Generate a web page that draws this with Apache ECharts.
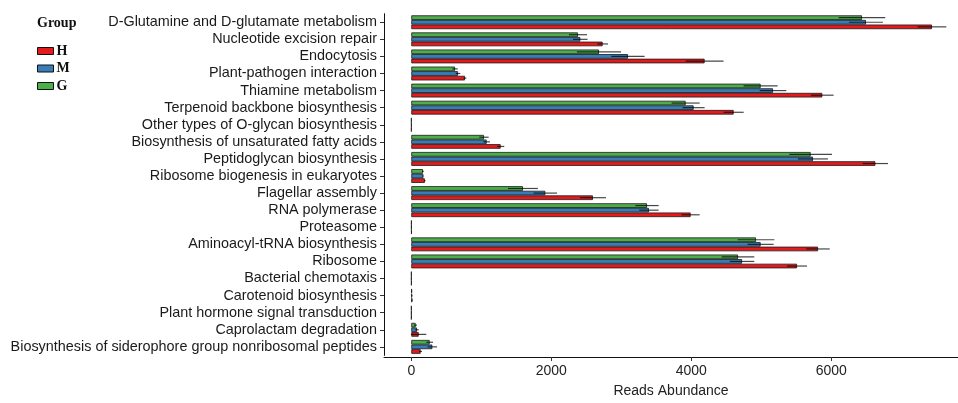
<!DOCTYPE html>
<html><head><meta charset="utf-8">
<script src="https://cdn.jsdelivr.net/npm/echarts@6/dist/echarts.min.js"></script>
<style>html,body{margin:0;padding:0;background:#fff}#c{width:958px;height:403px}</style>
</head><body><div id="c"></div>
<script>
const categories = [
  'D-Glutamine and D-glutamate metabolism',
  'Nucleotide excision repair',
  'Endocytosis',
  'Plant-pathogen interaction',
  'Thiamine metabolism',
  'Terpenoid backbone biosynthesis',
  'Other types of O-glycan biosynthesis',
  'Biosynthesis of unsaturated fatty acids',
  'Peptidoglycan biosynthesis',
  'Ribosome biogenesis in eukaryotes',
  'Flagellar assembly',
  'RNA polymerase',
  'Proteasome',
  'Aminoacyl-tRNA biosynthesis',
  'Ribosome',
  'Bacterial chemotaxis',
  'Carotenoid biosynthesis',
  'Plant hormone signal transduction',
  'Caprolactam degradation',
  'Biosynthesis of siderophore group nonribosomal peptides'
];
const valuesH = [7438, 2733, 4190, 767, 5871, 4605, 2, 1276, 6629, 193, 2595, 3990, 4, 5810, 5510, 3, 14, 2, 105, 133];
const errH    = [205, 77, 271, 19, 162, 143, 1, 52, 181, 10, 186, 129, 1, 167, 143, 1, 8, 1, 110, 20];
const valuesM = [6495, 2414, 3095, 667, 5167, 4033, 3, 1076, 5738, 171, 1914, 3395, 3, 4990, 4724, 2, 10, 2, 81, 300];
const errM    = [243, 104, 238, 33, 190, 157, 1, 48, 214, 8, 167, 138, 1, 186, 176, 1, 6, 1, 25, 67];
const valuesG = [6438, 2381, 2681, 624, 4990, 3919, 2, 1038, 5705, 167, 1595, 3367, 3, 4924, 4667, 2, 8, 2, 62, 262];
const errG    = [333, 129, 315, 38, 243, 200, 1, 67, 305, 10, 214, 167, 1, 262, 233, 1, 6, 1, 20, 48];
const xTicks = [0, 2000, 4000, 6000];
const groupNames = ['G', 'M', 'H'];
const legendOrder = ['H', 'M', 'G'];

const colors = { H: '#E41A1C', M: '#377EB8', G: '#4DAF4A' };
const vals = { H: valuesH, M: valuesM, G: valuesG };
const errs = { H: errH, M: errM, G: errG };
const CAT_GAP = 0.19;

function errRender(idx) {
  return function (params, api) {
    const ci = api.value(0), v = api.value(1), e = api.value(2);
    const p1 = api.coord([v - e, ci]);
    const p2 = api.coord([v + e, ci]);
    const band = api.size([0, 1])[1];
    const total = band * (1 - CAT_GAP);
    const bw = total / 3;
    const y = p1[1] - total / 2 + (idx + 0.5) * bw;
    return {
      type: 'line',
      shape: { x1: p1[0], y1: y, x2: p2[0], y2: y },
      style: { stroke: 'rgba(0,0,0,0.72)', lineWidth: 1.2 }
    };
  };
}

const series = [];
groupNames.forEach((g) => {
  series.push({
    name: g, type: 'bar',
    data: vals[g],
    barGap: '0%', barCategoryGap: (CAT_GAP * 100) + '%',
    itemStyle: { color: colors[g], borderColor: '#1a1a1a', borderWidth: 0.8 },
    emphasis: { disabled: true },
    animation: false
  });
});
groupNames.forEach((g, idx) => {
  series.push({
    name: 'err' + g, type: 'custom',
    data: categories.map((c, i) => [i, vals[g][i], errs[g][i]]),
    encode: { x: 1, y: 0 },
    renderItem: errRender(idx),
    z: 5, silent: true, animation: false
  });
});

const chart = echarts.init(document.getElementById('c'), null, { renderer: 'canvas' });
chart.setOption({
  animation: false,
  backgroundColor: '#fff',
  title: {
    text: 'Group', left: 32, top: 11,
    textStyle: { fontFamily: 'Liberation Serif', fontWeight: 'bold', fontSize: 14, color: '#111' }
  },
  legend: {
    data: legendOrder, orient: 'vertical', left: 32, top: 39,
    itemWidth: 16, itemHeight: 7, itemGap: 3.5,
    icon: 'rect',
    itemStyle: { borderColor: '#111', borderWidth: 1 },
    textStyle: { fontFamily: 'Liberation Serif', fontWeight: 'bold', fontSize: 14, color: '#111', padding: [0, 0, 0, -2] }
  },
  grid: { left: 384, right: 0, top: 13.7, bottom: 43.6, containLabel: false },
  xAxis: {
    type: 'value', min: -390, max: 7810, offset: 1.6,
    splitLine: { show: false },
    axisLine: { show: true, onZero: false, lineStyle: { color: '#111', width: 1 } },
    axisTick: { show: true, length: 4, customValues: xTicks, lineStyle: { color: '#333' } },
    axisLabel: { customValues: xTicks, formatter: (v) => String(v), fontFamily: 'Liberation Sans', fontSize: 14, color: '#222', margin: 7 },
    name: 'Reads Abundance', nameLocation: 'middle', nameGap: 27,
    nameTextStyle: { fontFamily: 'Liberation Sans', fontSize: 14, color: '#222' }
  },
  yAxis: {
    type: 'category', data: categories, inverse: true,
    axisLine: { show: true, onZero: false, lineStyle: { color: '#111', width: 1 } },
    axisTick: { show: true, length: 4, alignWithLabel: true, lineStyle: { color: '#333' } },
    axisLabel: { fontFamily: 'Liberation Sans', fontSize: 14.4, color: '#1a1a1a', margin: 7, interval: 0 }
  },
  series: series
});
</script></body></html>
